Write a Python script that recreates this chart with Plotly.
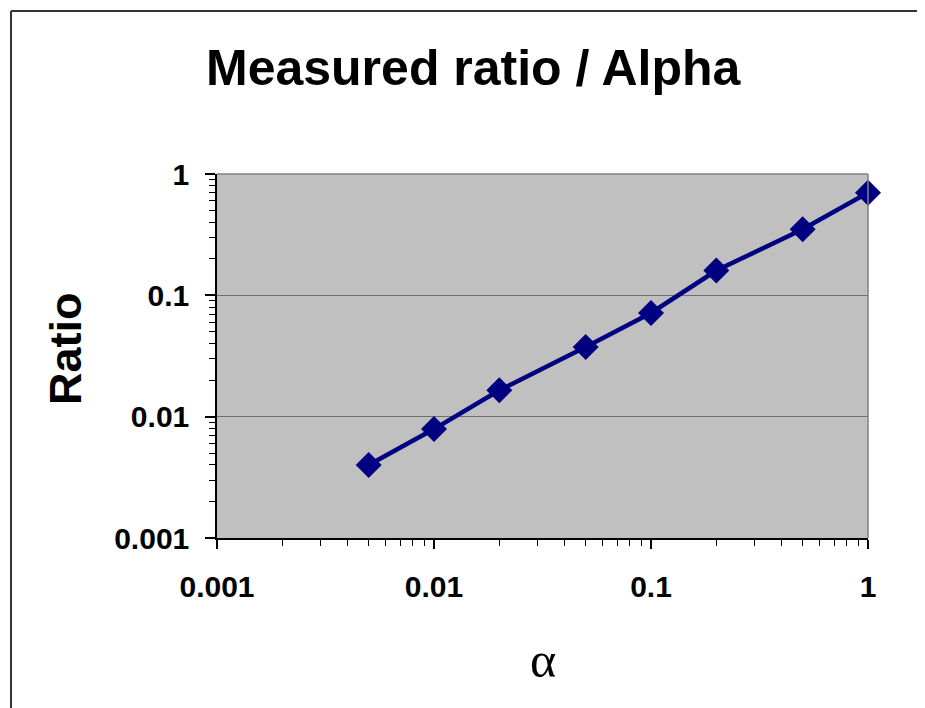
import plotly.graph_objects as go

# Data
alpha = [0.005, 0.01, 0.02, 0.05, 0.1, 0.2, 0.5, 1.0]
ratio = [0.004, 0.0079, 0.0165, 0.0375, 0.0715, 0.16, 0.35, 0.70]

x_tickvals = [0.001, 0.01, 0.1, 1]
x_ticktext = ["0.001", "0.01", "0.1", "1"]
y_tickvals = [0.001, 0.01, 0.1, 1]
y_ticktext = ["0.001", "0.01", "0.1", "1"]

title_text = "Measured ratio / Alpha"
x_title = "α"
y_title = "Ratio"

NAVY = "#000080"
tick_font = dict(family="Liberation Sans, Arial, sans-serif", size=30, color="black", weight="bold")

fig = go.Figure()
fig.add_trace(go.Scatter(
    x=alpha, y=ratio, mode="lines+markers",
    line=dict(color=NAVY, width=4.5),
    marker=dict(symbol="diamond", size=20, color=NAVY),
    cliponaxis=False, showlegend=False,
))

fig.update_layout(
    width=917, height=700,
    margin=dict(l=209, r=57, t=166, b=170),
    paper_bgcolor="white",
    plot_bgcolor="#C0C0C0",
    xaxis=dict(
        type="log", range=[-3, 0],
        tickmode="array", tickvals=x_tickvals, ticktext=x_ticktext,
        showgrid=False, zeroline=False,
        showline=True, linecolor="black", linewidth=1.5,
        ticks="outside", ticklen=9, tickwidth=1.5, tickcolor="black",
        tickfont=tick_font, ticklabelstandoff=12,
        minor=dict(dtick="D1", ticks="outside", ticklen=6, tickwidth=1, tickcolor="black", showgrid=False),
    ),
    yaxis=dict(
        type="log", range=[-3, 0],
        tickmode="array", tickvals=y_tickvals, ticktext=y_ticktext,
        showgrid=True, gridcolor="#6E6E6E", gridwidth=1.2, zeroline=False,
        showline=True, linecolor="black", linewidth=1.5,
        ticks="outside", ticklen=10, tickwidth=1.5, tickcolor="black",
        tickfont=tick_font, ticklabelstandoff=10,
        minor=dict(dtick="D1", ticks="outside", ticklen=6, tickwidth=1, tickcolor="black", showgrid=False),
    ),
    shapes=[
        # plot area border (top and right, gray)
        dict(type="line", xref="paper", yref="paper", x0=0, x1=1, y0=1, y1=1,
             line=dict(color="#808080", width=1.5), layer="above"),
        dict(type="line", xref="paper", yref="paper", x0=1, x1=1, y0=0, y1=1,
             line=dict(color="#808080", width=1.5), layer="above"),
        # outer chart frame (left and top edges visible)
        dict(type="line", xref="paper", yref="paper", x0=-0.3164, x1=-0.3164, y0=-0.7, y1=1.4478,
             line=dict(color="#333333", width=2), layer="below"),
        dict(type="line", xref="paper", yref="paper", x0=-0.3164, x1=1.3, y0=1.4478, y1=1.4478,
             line=dict(color="#333333", width=2), layer="below"),
    ],
    annotations=[
        dict(text=title_text, xref="paper", yref="paper", x=0.3948, y=1.291,
             xanchor="center", yanchor="middle", showarrow=False,
             font=dict(family="Liberation Sans, Arial, sans-serif", size=50, color="black", weight="bold")),
        dict(text=y_title, xref="paper", yref="paper", x=-0.232, y=0.522,
             xanchor="center", yanchor="middle", showarrow=False, textangle=-90,
             font=dict(family="Liberation Sans, Arial, sans-serif", size=45, color="black", weight="bold")),
        dict(text=x_title, xref="paper", yref="paper", x=0.5, y=-0.335,
             xanchor="center", yanchor="middle", showarrow=False,
             font=dict(family="Liberation Serif, Times New Roman, serif", size=50, color="black")),
    ],
)

fig.write_html("out.html")
